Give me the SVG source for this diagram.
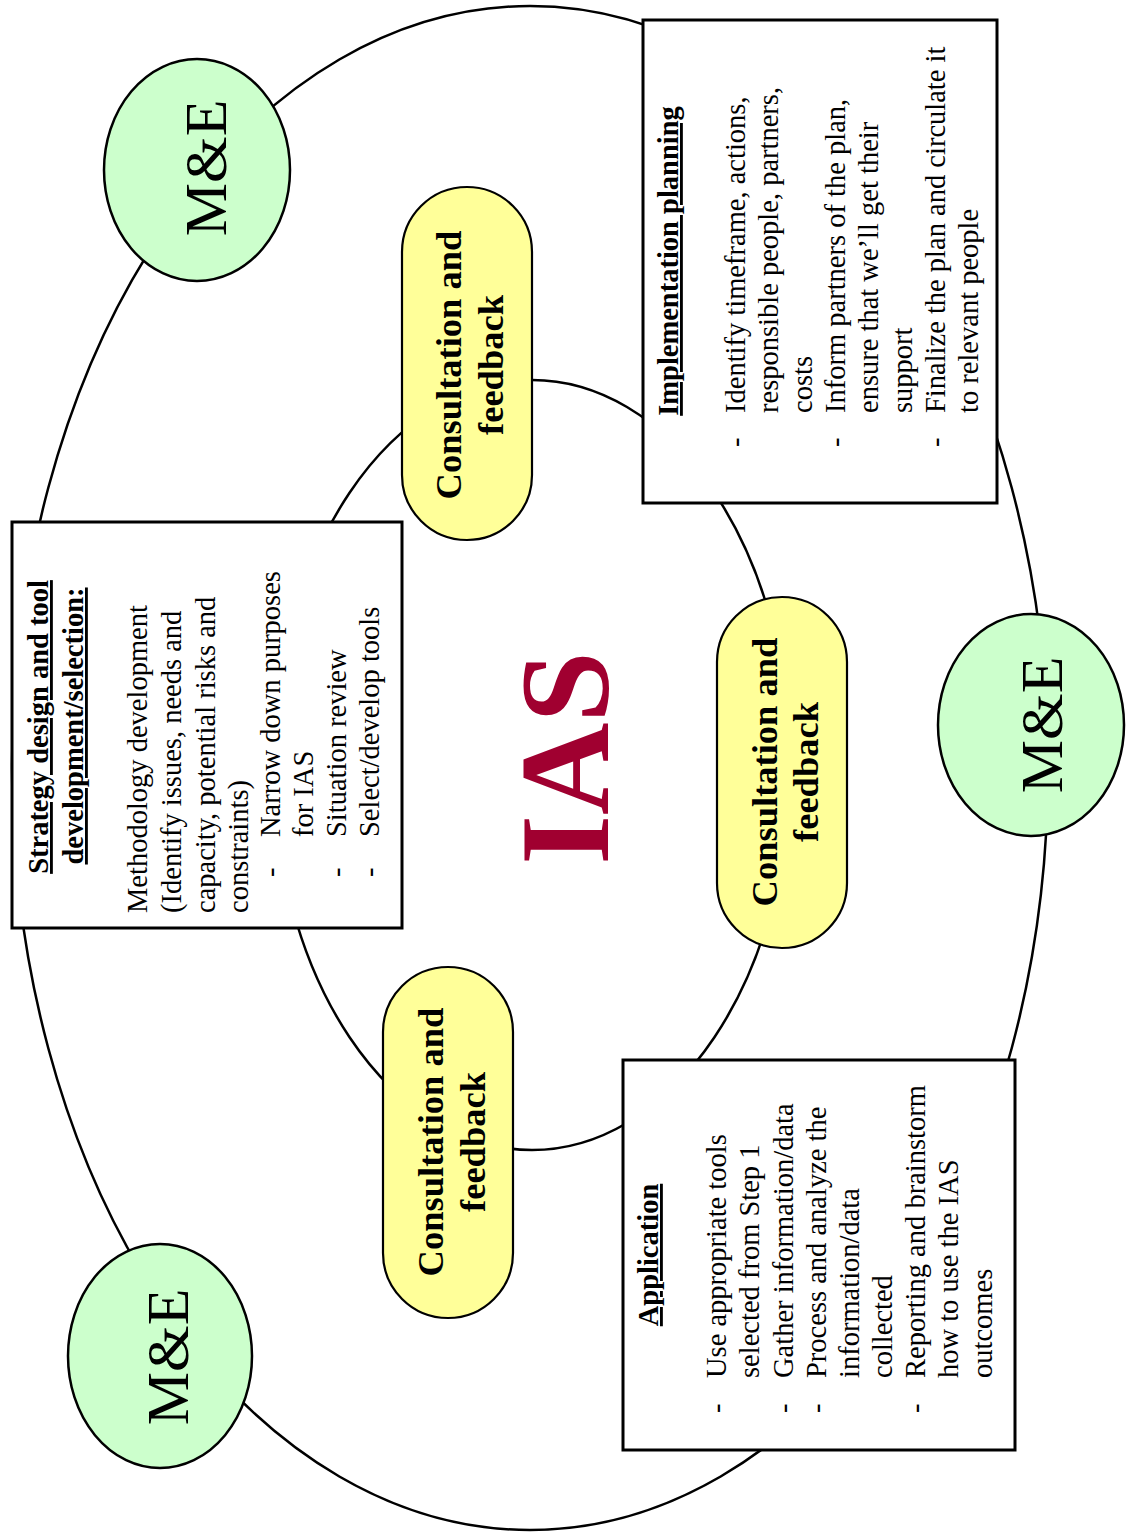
<svg xmlns="http://www.w3.org/2000/svg" width="1128" height="1539" viewBox="0 0 1128 1539">
<style>
.ln{fill:none;stroke:#000;stroke-width:2.5}
.box{fill:#fff;stroke:#000;stroke-width:3}
.me{fill:#ccffcc;stroke:#000;stroke-width:2.5}
.pill{fill:#ffff99;stroke:#000;stroke-width:2.2}
text{font-family:"Liberation Serif","Times New Roman",serif;fill:#000}
.t{font-size:28.5px}
.h{font-size:28.5px;font-weight:bold;text-decoration:underline;text-anchor:middle}
.c{font-size:36.5px;font-weight:bold;text-anchor:middle}
.m{font-size:60px;text-anchor:middle}
.ias{font-size:128px;font-weight:bold;text-anchor:middle;fill:#a00030}
</style>
<rect width="1128" height="1539" fill="#fff"/>
<g id="connectors">
<ellipse class="ln" cx="530" cy="768" rx="518" ry="762"/>
<ellipse class="ln" cx="532" cy="765" rx="258" ry="385"/>
</g>
<g id="me-top">
<ellipse class="me" cx="197" cy="170" rx="93" ry="111"/>
<text class="m" transform="rotate(-90)" x="-168" y="226">M&amp;E</text>
</g>
<g id="me-right">
<ellipse class="me" cx="1031" cy="725" rx="93" ry="111"/>
<text class="m" transform="rotate(-90)" x="-725" y="1062">M&amp;E</text>
</g>
<g id="me-bottom">
<ellipse class="me" cx="160" cy="1356" rx="92" ry="112"/>
<text class="m" transform="rotate(-90)" x="-1357" y="188">M&amp;E</text>
</g>
<g id="consult-1">
<rect class="pill" x="402" y="187" width="130" height="353" rx="65" ry="65"/>
<g transform="rotate(-90)">
<text class="c" x="-365" y="461">Consultation and</text>
<text class="c" x="-365" y="503">feedback</text>
</g>
</g>
<g id="consult-2">
<rect class="pill" x="717" y="597" width="130" height="351" rx="65" ry="65"/>
<g transform="rotate(-90)">
<text class="c" x="-772" y="777">Consultation and</text>
<text class="c" x="-772" y="818">feedback</text>
</g>
</g>
<g id="consult-3">
<rect class="pill" x="383" y="967" width="130" height="351" rx="65" ry="65"/>
<g transform="rotate(-90)">
<text class="c" x="-1142" y="443">Consultation and</text>
<text class="c" x="-1142" y="485">feedback</text>
</g>
</g>
<g id="strategy">
<rect class="box" x="12" y="522" width="390" height="406"/>
<g transform="rotate(-90)">
<text class="h" x="-727" y="48">Strategy design and tool</text>
<text class="h" x="-726" y="83">development/selection:</text>
<text class="t" x="-913" y="147">Methodology development</text>
<text class="t" x="-913" y="181">(Identify issues, needs and</text>
<text class="t" x="-913" y="215">capacity, potential risks and</text>
<text class="t" x="-913" y="248">constraints)</text>
<text class="t" x="-877" y="280">-</text>
<text class="t" x="-837" y="280">Narrow down purposes</text>
<text class="t" x="-837" y="313">for IAS</text>
<text class="t" x="-877" y="346">-</text>
<text class="t" x="-837" y="346">Situation review</text>
<text class="t" x="-877" y="379">-</text>
<text class="t" x="-837" y="379">Select/develop tools</text>
</g>
</g>
<g id="implementation">
<rect class="box" x="643" y="20" width="354" height="483"/>
<g transform="rotate(-90)">
<text class="h" x="-261" y="678">Implementation planning</text>
<text class="t" x="-447" y="745">-</text>
<text class="t" x="-413" y="745">Identify timeframe, actions,</text>
<text class="t" x="-413" y="778">responsible people, partners,</text>
<text class="t" x="-413" y="812">costs</text>
<text class="t" x="-447" y="845">-</text>
<text class="t" x="-413" y="845">Inform partners of the plan,</text>
<text class="t" x="-413" y="878">ensure that we’ll get their</text>
<text class="t" x="-413" y="912">support</text>
<text class="t" x="-447" y="945">-</text>
<text class="t" x="-413" y="945">Finalize the plan and circulate it</text>
<text class="t" x="-413" y="978">to relevant people</text>
</g>
</g>
<g id="application">
<rect class="box" x="623" y="1060" width="392" height="390"/>
<g transform="rotate(-90)">
<text class="h" x="-1255" y="658">Application</text>
<text class="t" x="-1413" y="726">-</text>
<text class="t" x="-1378" y="726">Use appropriate tools</text>
<text class="t" x="-1378" y="759">selected from Step 1</text>
<text class="t" x="-1413" y="793">-</text>
<text class="t" x="-1378" y="793">Gather information/data</text>
<text class="t" x="-1413" y="826">-</text>
<text class="t" x="-1378" y="826">Process and analyze the</text>
<text class="t" x="-1378" y="859">information/data</text>
<text class="t" x="-1378" y="892">collected</text>
<text class="t" x="-1413" y="925">-</text>
<text class="t" x="-1378" y="925">Reporting and brainstorm</text>
<text class="t" x="-1378" y="958">how to use the IAS</text>
<text class="t" x="-1378" y="992">outcomes</text>
</g>
</g>
<g id="ias">
<text class="ias" transform="rotate(-90)" x="-758" y="608">IAS</text>
</g>
</svg>
